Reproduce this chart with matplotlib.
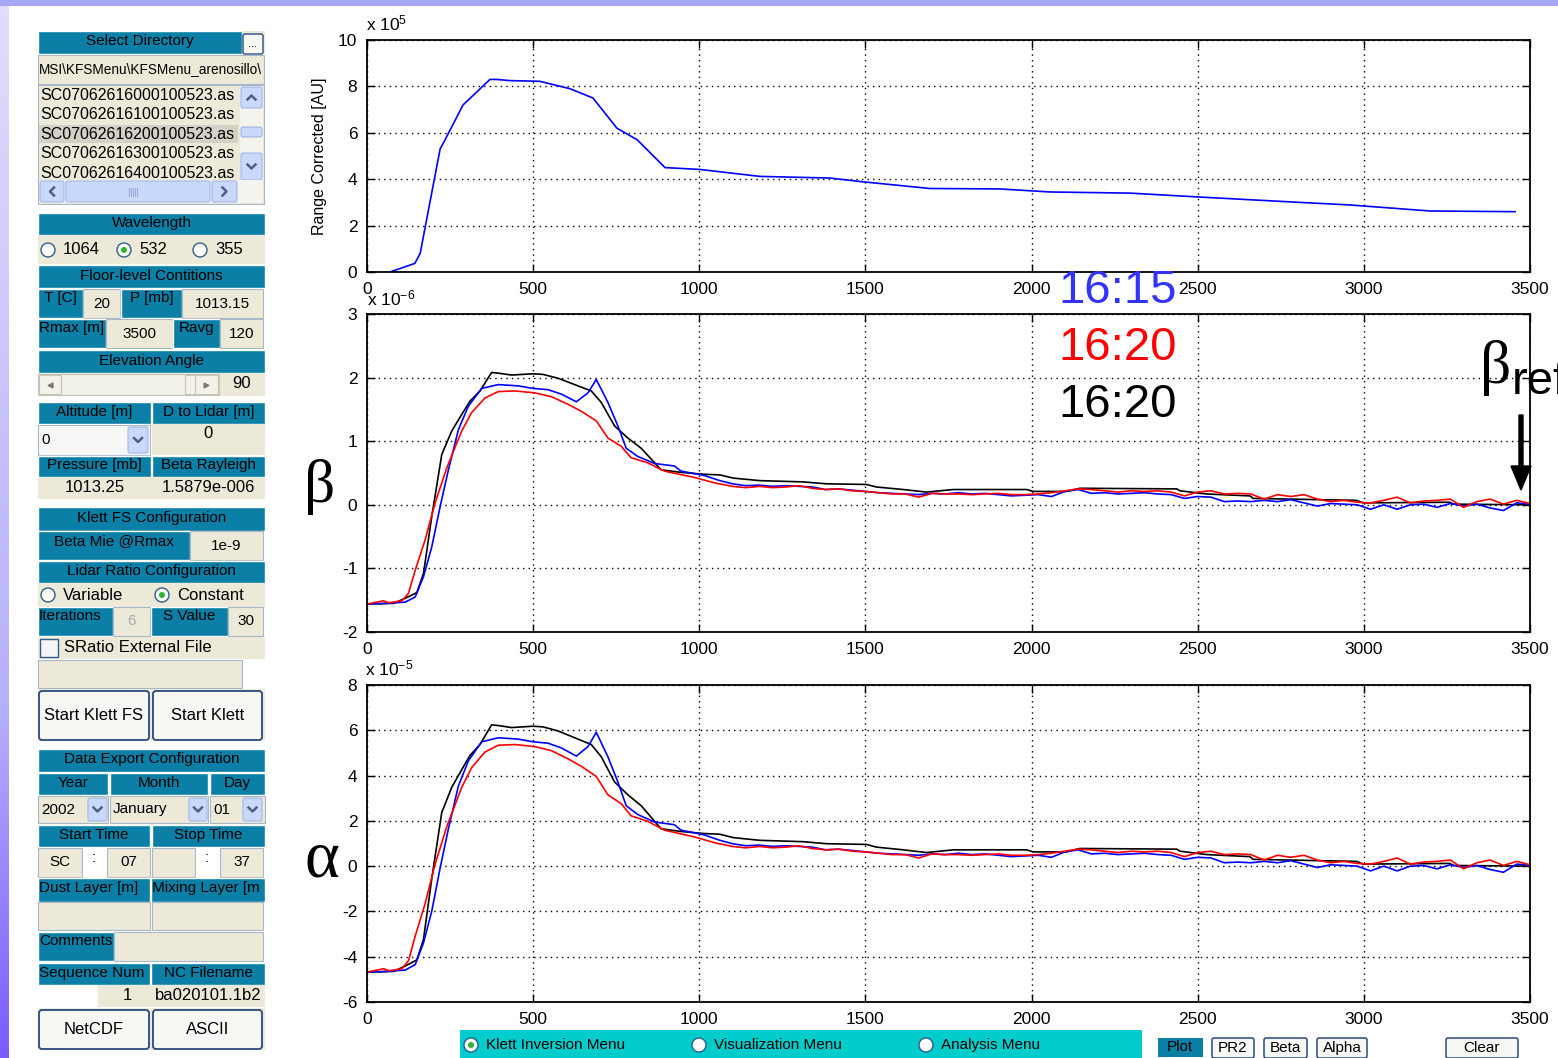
import numpy as np
import matplotlib.pyplot as plt
from matplotlib.patches import Rectangle, FancyBboxPatch, Circle, FancyArrow
from matplotlib.colors import LinearSegmentedColormap

plt.rcParams['font.family'] = ['Liberation Sans', 'DejaVu Sans']
plt.rcParams['mathtext.fontset'] = 'custom'
plt.rcParams['mathtext.rm'] = 'Liberation Sans'
plt.rcParams['mathtext.it'] = 'Liberation Sans:italic'
plt.rcParams['axes.unicode_minus'] = False

W, H = 1558, 1058

# ---- data ----
# range corrected signal (x1e5 AU)
rc_x = [69, 144, 160, 220, 235, 289, 370, 390, 430, 520, 611, 680, 752, 813, 897,
        1002, 1183, 1393, 1484, 1694, 1905, 2055, 2296, 2507, 2808, 2958, 3199, 3455]
rc_y = [0.0, 0.37, 0.8, 5.3, 5.7, 7.2, 8.3, 8.3, 8.25, 8.22, 7.9, 7.5, 6.2, 5.7, 4.5,
        4.42, 4.12, 4.05, 3.9, 3.6, 3.58, 3.45, 3.4, 3.23, 3.0, 2.89, 2.63, 2.6]

# black profile (coarse)
black_x = [0, 80, 115, 150, 170, 195, 225, 255, 285, 310,
           340, 375, 395, 435, 500, 530, 575, 625, 675, 705,
           745, 785, 825, 885, 945, 1015, 1062, 1102, 1182, 1313,
           1383, 1503, 1533, 1614, 1684, 1764, 1985, 2005, 2105, 2145,
           2437, 2447, 2527, 2657, 2667, 2978, 2998, 3259, 3269, 3500]
black_beta = [-1.56, -1.55, -1.47, -1.38, -1.08, -0.18, 0.79, 1.16, 1.42, 1.63,
              1.79, 2.08, 2.07, 2.04, 2.06, 2.05, 1.99, 1.89, 1.79, 1.61,
              1.24, 1.05, 0.89, 0.55, 0.51, 0.48, 0.47, 0.42, 0.38, 0.36,
              0.33, 0.32, 0.28, 0.24, 0.20, 0.24, 0.24, 0.21, 0.21, 0.26,
              0.25, 0.22, 0.17, 0.14, 0.10, 0.07, 0.03, 0.04, 0.01, 0.0]
black_alpha = [-4.68, -4.65, -4.41, -4.14, -3.24, -0.54, 2.37, 3.48, 4.26, 4.89,
               5.37, 6.24, 6.21, 6.12, 6.18, 6.15, 5.97, 5.67, 5.37, 4.83,
               3.72, 3.15, 2.67, 1.65, 1.53, 1.44, 1.41, 1.26, 1.14, 1.08,
               0.99, 0.96, 0.84, 0.72, 0.60, 0.72, 0.72, 0.63, 0.63, 0.78,
               0.75, 0.66, 0.51, 0.42, 0.30, 0.21, 0.09, 0.12, 0.03, 0.0]

# near range part of blue / red
blue_x0 = [0, 55, 115, 145, 170, 195, 220, 245, 275, 305, 345, 395, 455, 500, 545,
           585, 630, 665, 690, 725, 755, 780, 815, 865, 925, 945, 1015, 1062, 1100]
blue_beta0 = [-1.56, -1.55, -1.53, -1.45, -1.13, -0.66, -0.03, 0.55, 1.18, 1.55,
              1.83, 1.89, 1.87, 1.83, 1.81, 1.74, 1.62, 1.76, 1.97, 1.61,
              1.24, 0.89, 0.76, 0.65, 0.61, 0.53, 0.46, 0.38, 0.33]
blue_alpha0 = [-4.68, -4.65, -4.59, -4.35, -3.39, -1.98, -0.09, 1.65, 3.54, 4.65,
               5.49, 5.67, 5.61, 5.49, 5.43, 5.22, 4.86, 5.28, 5.91, 4.83,
               3.72, 2.67, 2.28, 1.95, 1.83, 1.59, 1.38, 1.14, 0.99]
red_x0 = [0, 50, 65, 105, 125, 145, 175, 205, 240, 285, 315, 355, 395, 445,
          505, 555, 605, 645, 690, 725, 765, 795, 845, 895, 985, 1050, 1100]
red_beta0 = [-1.56, -1.51, -1.54, -1.51, -1.39, -1.03, -0.55, 0.03, 0.58, 1.16,
             1.45, 1.68, 1.78, 1.79, 1.76, 1.70, 1.58, 1.47, 1.32, 1.05,
             0.92, 0.74, 0.66, 0.53, 0.43, 0.34, 0.29]
red_alpha0 = [-4.68, -4.53, -4.62, -4.53, -4.17, -3.09, -1.65, 0.09, 1.74, 3.48,
              4.35, 5.04, 5.34, 5.37, 5.28, 5.10, 4.74, 4.41, 3.96, 3.15,
              2.76, 2.22, 1.98, 1.59, 1.29, 1.02, 0.87]

# far range (noisy) part
tail_x = [1140, 1180, 1220, 1260, 1300, 1340, 1380, 1420, 1460, 1500,
          1540, 1580, 1620, 1660, 1700, 1740, 1780, 1820, 1860, 1900,
          1940, 1980, 2020, 2060, 2100, 2140, 2180, 2220, 2260, 2300,
          2340, 2380, 2420, 2460, 2500, 2540, 2580, 2620, 2660, 2700,
          2740, 2780, 2820, 2860, 2900, 2940, 2980, 3020, 3060, 3100,
          3140, 3180, 3220, 3260, 3300, 3340, 3380, 3420, 3460, 3500]
blue_beta1 = [0.30, 0.31, 0.29, 0.30, 0.29, 0.28, 0.24, 0.25, 0.23, 0.21,
              0.19, 0.18, 0.17, 0.16, 0.18, 0.17, 0.19, 0.17, 0.18, 0.16,
              0.14, 0.15, 0.16, 0.13, 0.21, 0.24, 0.18, 0.19, 0.17, 0.18,
              0.19, 0.17, 0.16, 0.10, 0.13, 0.12, 0.05, 0.06, 0.05, 0.07,
              0.05, 0.08, 0.03, -0.02, 0.02, 0.01, 0.00, -0.07, 0.00, -0.07,
              0.00, 0.01, -0.04, 0.02, -0.02, 0.01, -0.05, -0.09, 0.03, 0.01]
red_beta1 = [0.27, 0.29, 0.27, 0.28, 0.30, 0.26, 0.24, 0.25, 0.22, 0.21,
             0.19, 0.17, 0.17, 0.12, 0.18, 0.17, 0.17, 0.16, 0.17, 0.18,
             0.16, 0.16, 0.17, 0.19, 0.22, 0.25, 0.24, 0.22, 0.20, 0.22,
             0.21, 0.22, 0.20, 0.14, 0.20, 0.22, 0.17, 0.18, 0.17, 0.09,
             0.16, 0.13, 0.16, 0.09, 0.05, 0.07, 0.04, 0.03, 0.07, 0.12,
             0.03, 0.06, 0.07, 0.09, -0.04, 0.05, 0.09, 0.01, 0.07, 0.02]
blue_alpha1 = [0.90, 0.93, 0.87, 0.90, 0.87, 0.84, 0.72, 0.75, 0.69, 0.63,
               0.57, 0.54, 0.51, 0.48, 0.54, 0.51, 0.57, 0.51, 0.54, 0.48,
               0.42, 0.45, 0.48, 0.39, 0.63, 0.72, 0.54, 0.57, 0.51, 0.54,
               0.57, 0.51, 0.48, 0.30, 0.39, 0.36, 0.15, 0.18, 0.15, 0.21,
               0.15, 0.24, 0.09, -0.06, 0.06, 0.03, 0.00, -0.21, 0.00, -0.21,
               0.00, 0.03, -0.12, 0.06, -0.06, 0.03, -0.15, -0.27, 0.09, 0.03]
red_alpha1 = [0.81, 0.87, 0.81, 0.84, 0.90, 0.78, 0.72, 0.75, 0.66, 0.63,
              0.57, 0.51, 0.51, 0.36, 0.54, 0.51, 0.51, 0.48, 0.51, 0.54,
              0.48, 0.48, 0.51, 0.57, 0.66, 0.75, 0.72, 0.66, 0.60, 0.66,
              0.63, 0.66, 0.60, 0.42, 0.60, 0.66, 0.51, 0.54, 0.51, 0.27,
              0.48, 0.39, 0.48, 0.27, 0.15, 0.21, 0.12, 0.09, 0.21, 0.36,
              0.09, 0.18, 0.21, 0.27, -0.12, 0.15, 0.27, 0.03, 0.21, 0.06]

x_ticks = [0, 500, 1000, 1500, 2000, 2500, 3000, 3500]
file_list = ['SC07062616000100523.as', 'SC07062616100100523.as',
             'SC07062616200100523.as', 'SC07062616300100523.as',
             'SC07062616400100523.as']
time_labels = ['16:15', '16:20', '16:20']
time_colors = ['#3333ff', '#ff0000', '#000000']

fig = plt.figure(figsize=(W / 100, H / 100), dpi=100)


def px_axes(x0, y0, x1, y1):
    return fig.add_axes([x0 / W, 1 - y1 / H, (x1 - x0) / W, (y1 - y0) / H])


def matlab_style(ax, yticks):
    ax.set_xlim(0, 3500)
    ax.set_ylim(yticks[0], yticks[-1])
    ax.set_xticks(x_ticks)
    ax.set_yticks(yticks)
    ax.grid(True, color='black', linestyle=(0, (1, 3)), linewidth=1.0)
    ax.tick_params(direction='in', length=6, width=1, top=True, right=True,
                   labelsize=12.5, pad=7)
    for s in ax.spines.values():
        s.set_linewidth(1.3)


ax1 = px_axes(367, 40, 1530, 272)
ax2 = px_axes(367, 314, 1530, 632)
ax3 = px_axes(367, 685, 1530, 1002)

ax1.plot(rc_x, rc_y, color='#0000ff', lw=1.2)
matlab_style(ax1, [0, 2, 4, 6, 8, 10])

ax2.plot(black_x, black_beta, color='black', lw=1.2)
ax2.plot(blue_x0 + tail_x, blue_beta0 + blue_beta1, color='#0000ff', lw=1.2)
ax2.plot(red_x0 + tail_x, red_beta0 + red_beta1, color='#ff0000', lw=1.2)
matlab_style(ax2, [-2, -1, 0, 1, 2, 3])

ax3.plot(black_x, black_alpha, color='black', lw=1.2)
ax3.plot(blue_x0 + tail_x, blue_alpha0 + blue_alpha1, color='#0000ff', lw=1.2)
ax3.plot(red_x0 + tail_x, red_alpha0 + red_alpha1, color='#ff0000', lw=1.2)
matlab_style(ax3, [-6, -4, -2, 0, 2, 4, 6, 8])

# overlay in pixel coordinates (y down) for the GUI and annotations
g = fig.add_axes([0, 0, 1, 1], zorder=10)
g.patch.set_alpha(0)
g.axis('off')

strip = LinearSegmentedColormap.from_list('strip', ['#e0defc', '#cbc7fb', '#b7b0fb', '#7b5cff'])
g.imshow(np.linspace(0, 1, 256).reshape(-1, 1), extent=(0, 9, H, 0), aspect='auto', cmap=strip)
g.add_patch(Rectangle((0, 0), W, 6, facecolor='#aaa6f6', edgecolor='none'))
g.set_xlim(0, W)
g.set_ylim(H, 0)

TEAL = '#0b7fa6'
BEIGE = '#ece9d8'
EDGE = '#a9b8c9'


def box(x0, y0, x1, y1, fc, ec='none', lw=0.8, z=1):
    r = Rectangle((x0, y0), x1 - x0, y1 - y0, facecolor=fc, edgecolor=ec,
                  linewidth=lw, zorder=z)
    g.add_patch(r)
    return r


def txt(x, y, s, size=11, ha='center', color='black', **kw):
    return g.text(x, y, s, fontsize=size, ha=ha, va='center', color=color, **kw)


def head(x0, y0, x1, y1, s, ha='center', ty=None):
    box(x0, y0, x1, y1, TEAL, ec='white', lw=1)
    tx = (x0 + x1) / 2 if ha == 'center' else x0 + 1
    txt(tx, ty if ty else (y0 + y1) / 2 - 1, s, ha=ha)


def field(x0, y0, x1, y1, s='', tx=None, ty=None, ha='center', color='black', fc=BEIGE, size=11):
    r = box(x0, y0, x1, y1, fc, ec=EDGE)
    if s:
        t = txt(tx if tx else (x0 + x1) / 2, ty if ty else (y0 + y1) / 2, s, size,
                ha=ha, color=color)
        t.set_clip_path(r)


def button(x0, y0, x1, y1, s, size=11, lw=1.3, pad=3):
    g.add_patch(FancyBboxPatch((x0 + pad, y0 + pad), x1 - x0 - 2 * pad, y1 - y0 - 2 * pad,
                               boxstyle='round,pad=%d' % pad, facecolor='#f7f7f4',
                               edgecolor='#2a4a7f', linewidth=lw))
    txt((x0 + x1) / 2, (y0 + y1) / 2, s, size)


def radio(cx, cy, s, on=False, size=12):
    g.add_patch(Circle((cx, cy), 7, facecolor='white', edgecolor='#2f5d8a', lw=1))
    if on:
        g.add_patch(Circle((cx, cy), 3, facecolor='#2fb52f', edgecolor='none'))
    txt(cx + 15, cy, s, size, ha='left')


def arrow_btn(x0, y0, x1, y1, d='down', z=2):
    g.add_patch(FancyBboxPatch((x0 + 2, y0 + 2), x1 - x0 - 4, y1 - y0 - 4,
                               boxstyle='round,pad=2', facecolor='#c9d9fb',
                               edgecolor='#a3b8e6', lw=0.8, zorder=z))
    cx, cy = (x0 + x1) / 2, (y0 + y1) / 2
    if d == 'down':
        g.plot([cx - 4, cx, cx + 4], [cy - 2, cy + 2, cy - 2], color='#4d6185', lw=1.8, zorder=z + 1)
    elif d == 'up':
        g.plot([cx - 4, cx, cx + 4], [cy + 2, cy - 2, cy + 2], color='#4d6185', lw=1.8, zorder=z + 1)
    elif d == 'left':
        g.plot([cx + 2, cx - 2, cx + 2], [cy - 4, cy, cy + 4], color='#4d6185', lw=1.8, zorder=z + 1)
    else:
        g.plot([cx - 2, cx + 2, cx - 2], [cy - 4, cy, cy + 4], color='#4d6185', lw=1.8, zorder=z + 1)


# directory selection
head(38, 31, 242, 54, 'Select Directory')
box(242, 31, 265, 54, BEIGE)
button(243, 34, 263, 54, '...', size=8, lw=1.0, pad=2)
field(38, 55, 264, 84, 'MSI\\KFSMenu\\KFSMenu_arenosillo\\', tx=39, ha='left', size=9.8)
box(38, 85, 264, 204, BEIGE, ec=EDGE)
box(39, 125, 238, 143, '#d3d0c6')
for i, name in enumerate(file_list):
    txt(40, 95 + 19.6 * i, name, 11.5, ha='left')
box(240, 86, 263, 180, '#f4f3ee')
arrow_btn(241, 87, 262, 108, 'up')
g.add_patch(FancyBboxPatch((243, 129), 17, 6, boxstyle='round,pad=2', facecolor='#c9d9fb',
                           edgecolor='#a3b8e6', lw=0.8))
arrow_btn(241, 153, 262, 180, 'down')
box(39, 180, 263, 203, '#f4f3ee', z=5)
arrow_btn(40, 181, 64, 202, 'left', z=6)
g.add_patch(FancyBboxPatch((68, 183), 140, 17, boxstyle='round,pad=2', facecolor='#c9d9fb',
                           edgecolor='#a3b8e6', lw=0.8, zorder=6))
for gx in [129, 131, 133, 135, 137]:
    g.plot([gx, gx], [188, 196], color='#8fa6d8', lw=0.7, zorder=7)
arrow_btn(212, 181, 237, 202, 'right', z=6)

# wavelength and floor-level conditions
head(38, 213, 265, 235, 'Wavelength')
box(38, 235, 265, 264, BEIGE)
radio(48, 250, '1064')
radio(124, 250, '532', on=True)
radio(200, 250, '355')
head(38, 265, 265, 288, 'Floor-level Contitions')
head(38, 289, 83, 318, 'T [C]', ty=298)
field(83, 289, 120, 318, '20', ty=304)
head(121, 289, 182, 318, 'P [mb]', ty=298)
field(182, 289, 263, 318, '1013.15', ty=304)
head(38, 319, 106, 348, 'Rmax [m]', ha='left', ty=328)
field(106, 319, 173, 348, '3500', ty=334)
head(173, 319, 220, 348, 'Ravg', ty=328)
field(220, 319, 263, 348, '120', ty=334)
head(38, 350, 265, 373, 'Elevation Angle')
box(38, 373, 265, 396, BEIGE)
box(38, 374, 219, 395, '#f2f1ea', ec='#c8c5b8')
box(39, 375, 61, 394, '#f2f1ea', ec='#c8c5b8')
box(185, 375, 195, 394, '#f2f1ea', ec='#c8c5b8')
box(195, 375, 218, 394, '#f2f1ea', ec='#c8c5b8')
g.plot([50], [384.5], marker='<', ms=3.5, color='#777777')
g.plot([206], [384.5], marker='>', ms=3.5, color='#777777')
txt(242, 383, '90', 12)

# altitude / pressure
head(38, 402, 151, 424, 'Altitude [m]')
head(152, 402, 265, 424, 'D to Lidar [m]')
field(38, 425, 150, 455, '0', tx=41, ha='left', fc='#f7f7f5')
arrow_btn(128, 427, 148, 453)
box(152, 424, 265, 455, BEIGE)
txt(208, 433, '0', 12)
head(38, 456, 151, 477, 'Pressure [mb]')
head(152, 456, 265, 477, 'Beta Rayleigh')
box(38, 477, 265, 499, BEIGE)
txt(95, 487, '1013.25', 12)
txt(208, 487, '1.5879e-006', 12)

# Klett configuration
head(38, 507, 265, 531, 'Klett FS Configuration')
head(38, 531, 190, 560, 'Beta Mie @Rmax', ty=541)
field(190, 531, 263, 560, '1e-9', ty=546)
head(38, 561, 265, 583, 'Lidar Ratio Configuration')
box(38, 583, 265, 607, BEIGE)
radio(48, 595, 'Variable')
radio(162, 595, 'Constant', on=True)
head(38, 607, 113, 636, 'Iterations', ha='left', ty=616)
field(113, 607, 150, 636, '6', ty=621, color='#aaaaaa')
head(151, 607, 228, 636, 'S Value', ty=616)
field(228, 607, 263, 636, '30', ty=621)
box(38, 637, 265, 659, BEIGE)
box(40, 639, 58, 657, '#f4f4f4', ec='#2f5d8a', lw=1)
txt(64, 648, 'SRatio External File', 12, ha='left')
field(38, 660, 242, 688)
box(38, 689, 265, 741, BEIGE)
button(39, 691, 149, 740, 'Start Klett FS', 12)
button(153, 691, 262, 740, 'Start Klett', 12)

# data export
head(38, 749, 265, 772, 'Data Export Configuration')
head(38, 773, 108, 795, 'Year')
head(110, 773, 208, 795, 'Month')
head(210, 773, 265, 795, 'Day')
field(38, 796, 108, 823, '2002', tx=41, ha='left')
arrow_btn(88, 798, 107, 821)
field(110, 796, 208, 823, 'January', tx=113, ha='left')
arrow_btn(189, 798, 207, 821)
field(210, 796, 265, 823, '01', tx=213, ha='left')
arrow_btn(243, 798, 262, 821)
head(38, 825, 150, 847, 'Start Time')
head(152, 825, 265, 847, 'Stop Time')
field(38, 848, 82, 877, 'SC', ty=862)
box(83, 848, 106, 877, 'white')
txt(94, 858, ':')
field(107, 848, 150, 877, '07', ty=862)
field(152, 848, 195, 877)
box(196, 848, 220, 877, 'white')
txt(207, 858, ':')
field(220, 848, 263, 877, '37', ty=862)
head(38, 878, 150, 902, 'Dust Layer [m]', ha='left', ty=888)
head(151, 878, 265, 902, 'Mixing Layer [m', ha='left', ty=888)
field(38, 902, 150, 930)
field(152, 902, 263, 930)
head(38, 932, 114, 961, 'Comments', ha='left', ty=941)
field(114, 932, 263, 961)
head(38, 963, 150, 985, 'Sequence Num', ha='left', ty=973)
head(151, 963, 265, 985, 'NC Filename', ty=973)
box(98, 985, 265, 1007, BEIGE)
txt(127, 995, '1', 12)
txt(208, 995, 'ba020101.1b2', 12)
box(38, 1008, 265, 1050, BEIGE)
button(39, 1010, 149, 1049, 'NetCDF', 12)
button(153, 1010, 262, 1049, 'ASCII', 12)

# menu bar at the bottom
box(460, 1030, 1142, 1058, '#00cccc')
radio(471, 1045, 'Klett Inversion Menu', on=True, size=11)
radio(699, 1045, 'Visualization Menu', size=11)
radio(926, 1045, 'Analysis Menu', size=11)
box(1158, 1038, 1203, 1057, TEAL)
txt(1180, 1047, 'Plot', 11)
button(1212, 1038, 1254, 1058, 'PR2', 11, lw=1.1, pad=2)
button(1264, 1038, 1307, 1058, 'Beta', 11, lw=1.1, pad=2)
button(1317, 1038, 1367, 1058, 'Alpha', 11, lw=1.1, pad=2)
button(1446, 1038, 1518, 1058, 'Clear', 11, lw=1.1, pad=2)

# axis decorations
txt(366, 23, r'x 10$^{5}$', 12.5, ha='left')
txt(367, 298, r'x 10$^{-6}$', 12.5, ha='left')
txt(365, 668, r'x 10$^{-5}$', 12.5, ha='left')
txt(320, 156, 'Range Corrected [AU]', 11.5, rotation=90)

# annotations
for i, (lab, col) in enumerate(zip(time_labels, time_colors)):
    txt(1118, 291 + 57 * i, lab, 34, color=col)
txt(320, 487, 'β', 44, family='Liberation Serif')
txt(322, 860, 'α', 48, family='Liberation Serif')
txt(1496, 368, 'β', 44, family='Liberation Serif')
txt(1512, 382, 'ref', 34, ha='left')
g.add_patch(FancyArrow(1521, 415, 0, 75, width=4, head_width=20, head_length=24,
                       length_includes_head=True, color='black'))

fig.savefig('out.png', dpi=100)
